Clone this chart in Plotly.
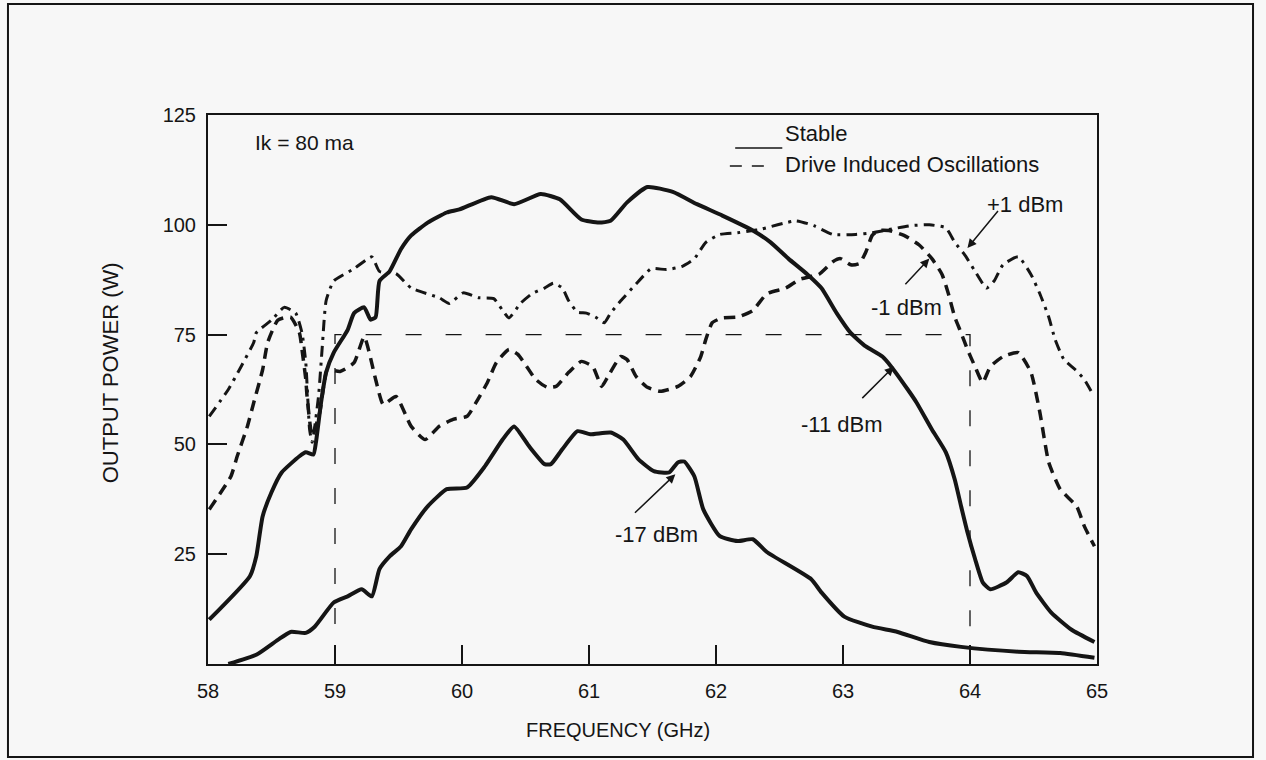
import plotly.graph_objects as go

# ---------------- data (frequency in GHz, output power in W) ----------------
# Stable, -17 dBm drive
f_m17 = [58.16, 58.38, 58.55, 58.65, 58.77, 58.84, 58.99, 59.10, 59.21, 59.29,
         59.35, 59.43, 59.52, 59.60, 59.73, 59.88, 60.04, 60.18, 60.32, 60.41,
         60.53, 60.65, 60.70, 60.79, 60.91, 61.01, 61.17, 61.27, 61.39, 61.51,
         61.63, 61.70, 61.75, 61.83, 61.90, 62.03, 62.17, 62.29, 62.40, 62.75,
         62.83, 63.01, 63.23, 63.43, 63.68, 63.93, 64.38, 64.71, 64.98]
p_m17 = [0.0, 2.1, 5.5, 7.3, 7.1, 8.5, 14.0, 15.4, 17.0, 15.4,
         21.6, 24.5, 26.8, 30.7, 35.9, 39.8, 40.2, 45.0, 51.1, 54.1,
         49.5, 45.5, 45.5, 48.9, 53.0, 52.3, 52.7, 51.1, 46.6, 43.9,
         43.6, 45.9, 46.1, 42.7, 35.2, 29.1, 28.0, 28.4, 25.5, 19.3,
         16.3, 10.8, 8.5, 7.3, 5.0, 3.9, 2.8, 2.5, 1.4]

# Stable, -11 dBm drive
f_m11 = [58.01, 58.33, 58.38, 58.43, 58.50, 58.58, 58.72, 58.77, 58.83, 58.85,
         58.89, 58.93, 58.99, 59.10, 59.15, 59.23, 59.28, 59.32, 59.35, 59.43,
         59.52, 59.60, 59.73, 59.88, 59.98, 60.23, 60.41, 60.62, 60.77, 60.94,
         61.08, 61.17, 61.30, 61.46, 61.66, 61.85, 62.05, 62.29, 62.43, 62.57,
         62.72, 62.83, 62.95, 63.06, 63.18, 63.31, 63.38, 63.51, 63.58, 63.70,
         63.81, 63.88, 63.93, 63.98, 64.04, 64.10, 64.16, 64.29, 64.38, 64.45,
         64.52, 64.64, 64.80, 64.98]
p_m11 = [10.1, 20.0, 24.5, 33.6, 39.1, 43.6, 47.3, 48.2, 47.7, 50.5,
         59.5, 66.4, 70.9, 76.1, 79.9, 81.2, 78.4, 79.0, 87.2, 89.4,
         94.5, 97.6, 100.5, 102.8, 103.5, 106.3, 104.7, 107.0, 105.8, 101.2,
         100.5, 100.9, 105.1, 108.6, 107.5, 104.7, 102.1, 98.7, 96.0, 92.3,
         88.7, 85.6, 79.9, 75.4, 72.3, 70.0, 67.7, 62.5, 59.5, 53.4,
         48.2, 42.0, 35.9, 30.0, 23.9, 18.6, 17.0, 18.6, 20.9, 20.0,
         16.3, 11.7, 7.8, 5.0]

# Drive induced oscillations, +1 dBm drive
f_p1 = [58.01, 58.16, 58.26, 58.36, 58.38, 58.50, 58.60, 58.69, 58.74, 58.77,
        58.80, 58.82, 58.87, 58.90, 58.93, 58.99, 59.15, 59.29, 59.35, 59.48,
        59.60, 59.82, 59.90, 60.01, 60.13, 60.25, 60.32, 60.37, 60.46, 60.55,
        60.65, 60.72, 60.79, 60.84, 60.91, 60.98, 61.05, 61.12, 61.17, 61.25,
        61.37, 61.49, 61.61, 61.73, 61.83, 61.92, 62.03, 62.17, 62.29, 62.34,
        62.63, 62.77, 62.92, 63.10, 63.23, 63.36, 63.53, 63.68, 63.81, 63.88,
        63.96, 64.04, 64.13, 64.19, 64.26, 64.38, 64.48, 64.55, 64.62, 64.67,
        64.74, 64.83, 64.90, 64.96]
p_p1 = [56.4, 62.5, 67.7, 73.2, 75.4, 78.3, 81.2, 79.9, 75.4, 68.6,
        53.4, 50.5, 60.9, 72.3, 82.7, 87.2, 90.0, 92.7, 89.4, 88.9,
        85.6, 83.4, 82.1, 84.5, 83.4, 83.2, 80.5, 78.8, 82.1, 84.3,
        85.6, 86.7, 85.6, 82.7, 80.1, 79.9, 79.0, 77.7, 79.9, 82.7,
        86.5, 90.0, 89.8, 90.5, 92.3, 96.0, 97.8, 98.2, 98.7, 98.9,
        100.9, 99.8, 97.8, 97.8, 98.2, 98.9, 99.8, 100.0, 99.3, 96.0,
        93.1, 89.4, 85.6, 87.2, 90.9, 92.7, 88.7, 84.3, 79.0, 73.9,
        69.3, 67.0, 64.8, 61.8]

# Drive induced oscillations, -1 dBm drive
f_m1 = [58.01, 58.18, 58.23, 58.31, 58.36, 58.43, 58.47, 58.55, 58.65, 58.72,
        58.74, 58.77, 58.78, 58.82, 58.88, 58.91, 58.94, 59.04, 59.15, 59.23,
        59.32, 59.38, 59.48, 59.60, 59.71, 59.82, 59.93, 60.04, 60.11, 60.20,
        60.27, 60.37, 60.44, 60.51, 60.58, 60.67, 60.74, 60.84, 60.94, 61.03,
        61.10, 61.15, 61.25, 61.30, 61.37, 61.46, 61.56, 61.70, 61.80, 61.88,
        61.92, 61.97, 62.05, 62.17, 62.29, 62.40, 62.55, 62.66, 62.81, 62.92,
        62.98, 63.06, 63.13, 63.18, 63.23, 63.28, 63.36, 63.48, 63.60, 63.70,
        63.78, 63.83, 63.88, 63.93, 63.98, 64.04, 64.10, 64.16, 64.26, 64.38,
        64.48, 64.55, 64.62, 64.71, 64.84, 64.90, 64.98]
p_m1 = [35.2, 42.7, 47.3, 54.1, 59.5, 67.0, 73.2, 78.3, 79.0, 75.4,
        71.6, 64.8, 60.9, 52.0, 57.3, 63.2, 67.0, 66.6, 68.6, 74.5,
        64.8, 59.1, 60.9, 54.1, 51.1, 54.1, 55.7, 56.4, 59.5, 64.1,
        68.6, 71.6, 70.5, 67.7, 64.8, 63.0, 63.2, 66.4, 68.9, 67.7,
        63.2, 65.5, 70.0, 69.3, 65.5, 63.0, 62.1, 63.2, 65.5, 70.0,
        73.9, 77.7, 78.8, 79.0, 80.5, 84.3, 85.6, 87.6, 88.7, 91.6,
        92.3, 90.9, 91.2, 93.8, 97.6, 98.7, 98.7, 97.6, 95.4, 92.3,
        88.7, 84.3, 79.0, 75.4, 71.6, 67.7, 64.1, 67.7, 70.0, 70.9,
        66.4, 57.3, 45.9, 39.8, 35.9, 31.4, 26.8]

# 75 W / 59-64 GHz reference window (thin dashed)
window_f = [59, 59, 64, 64]
window_p = [0, 75, 75, 0]

x_ticks = [58, 59, 60, 61, 62, 63, 64, 65]
y_ticks = [25, 50, 75, 100, 125]

# ---------------- figure ----------------
INK = "#151515"
BG = "#f7f7f7"
FONT = "Liberation Sans, Arial, sans-serif"

fig = go.Figure()

fig.add_trace(go.Scatter(x=window_f, y=window_p, mode="lines", name="75 W window",
                         line=dict(color=INK, width=1.3, dash="16px,24px"),
                         showlegend=False, hoverinfo="skip"))

fig.add_trace(go.Scatter(x=f_p1, y=p_p1, mode="lines", name="+1 dBm",
                         line=dict(color=INK, width=3, dash="11px,6px,3px,6px",
                                   shape="spline", smoothing=0.5),
                         showlegend=False))
fig.add_trace(go.Scatter(x=f_m1, y=p_m1, mode="lines", name="-1 dBm",
                         line=dict(color=INK, width=3.5, dash="11px,7px",
                                   shape="spline", smoothing=0.5),
                         showlegend=False))
fig.add_trace(go.Scatter(x=f_m11, y=p_m11, mode="lines", name="-11 dBm",
                         line=dict(color=INK, width=4, shape="spline", smoothing=0.5),
                         showlegend=False))
fig.add_trace(go.Scatter(x=f_m17, y=p_m17, mode="lines", name="-17 dBm",
                         line=dict(color=INK, width=4, shape="spline", smoothing=0.5),
                         showlegend=False))

tfont = dict(family=FONT, size=20, color=INK)
lfont = dict(family=FONT, size=22, color=INK)
cfont = dict(family=FONT, size=22, color=INK)

annotations = [
    # curve labels
    dict(x=64.43, y=104.7, text="+1 dBm", showarrow=False, font=cfont),
    dict(x=63.50, y=81.2, text="-1 dBm", showarrow=False, font=cfont),
    dict(x=62.99, y=54.5, text="-11 dBm", showarrow=False, font=cfont),
    dict(x=61.53, y=29.5, text="-17 dBm", showarrow=False, font=cfont),
    # arrows (tip at curve, tail near label)
    dict(x=63.98, y=94.7, ax=64.23, ay=103.5, axref="x", ayref="y", text="",
         showarrow=True, arrowhead=2, arrowsize=1.2, arrowwidth=1.5, arrowcolor=INK),
    dict(x=63.68, y=92.3, ax=63.48, ay=86.1, axref="x", ayref="y", text="",
         showarrow=True, arrowhead=2, arrowsize=1.2, arrowwidth=1.5, arrowcolor=INK),
    dict(x=63.40, y=67.7, ax=63.14, ay=60.2, axref="x", ayref="y", text="",
         showarrow=True, arrowhead=2, arrowsize=1.2, arrowwidth=1.5, arrowcolor=INK),
    dict(x=61.68, y=43.2, ax=61.35, ay=34.1, axref="x", ayref="y", text="",
         showarrow=True, arrowhead=2, arrowsize=1.2, arrowwidth=1.5, arrowcolor=INK),
    # inline texts
    dict(x=0.0506, y=0.949, xref="paper", yref="paper", xanchor="left", yanchor="middle",
         text="Ik = 80 ma", showarrow=False, font=dict(family=FONT, size=21, color=INK)),
    dict(x=0.647, y=0.967, xref="paper", yref="paper", xanchor="left", yanchor="middle",
         text="Stable", showarrow=False, font=lfont),
    dict(x=0.647, y=0.909, xref="paper", yref="paper", xanchor="left", yanchor="middle",
         text="Drive Induced Oscillations", showarrow=False, font=lfont),
    # axis titles
    dict(x=0.461, y=-0.12, xref="paper", yref="paper", xanchor="center", yanchor="middle",
         text="FREQUENCY (GHz)", showarrow=False, font=tfont),
    dict(x=-0.110, y=0.53, xref="paper", yref="paper", xanchor="center", yanchor="middle",
         text="OUTPUT POWER (W)", textangle=-90, showarrow=False,
         font=dict(family=FONT, size=22, color=INK)),
]

shapes = [
    # outer frame
    dict(type="rect", xref="paper", yref="paper", x0=-0.225, x1=1.1755, y0=-0.1694, y1=1.202,
         line=dict(color=INK, width=2), layer="below"),
    # legend samples
    dict(type="line", xref="paper", yref="paper", x0=0.593, x1=0.646, y0=0.940, y1=0.940,
         line=dict(color=INK, width=1.5)),
    dict(type="line", xref="paper", yref="paper", x0=0.587, x1=0.627, y0=0.907, y1=0.907,
         line=dict(color=INK, width=1.5, dash="12px,10px")),
]

fig.update_layout(
    width=1266, height=760,
    margin=dict(l=208, r=169, t=115, b=96),
    paper_bgcolor=BG, plot_bgcolor=BG,
    font=tfont,
    showlegend=False,
    annotations=annotations,
    shapes=shapes,
)

fig.update_xaxes(range=[58, 65], tickvals=x_ticks, ticks="inside", ticklen=19, tickwidth=1.5,
                 tickcolor=INK, showline=True, linecolor=INK, linewidth=2, mirror=True,
                 showgrid=False, zeroline=False, tickfont=tfont, ticklabelstandoff=8)
fig.update_yaxes(range=[0, 125], tickvals=y_ticks, ticks="inside", ticklen=19, tickwidth=1.5,
                 tickcolor=INK, showline=True, linecolor=INK, linewidth=2, mirror=True,
                 showgrid=False, zeroline=False, tickfont=tfont, ticklabelstandoff=6)

fig.write_html("out.html")
